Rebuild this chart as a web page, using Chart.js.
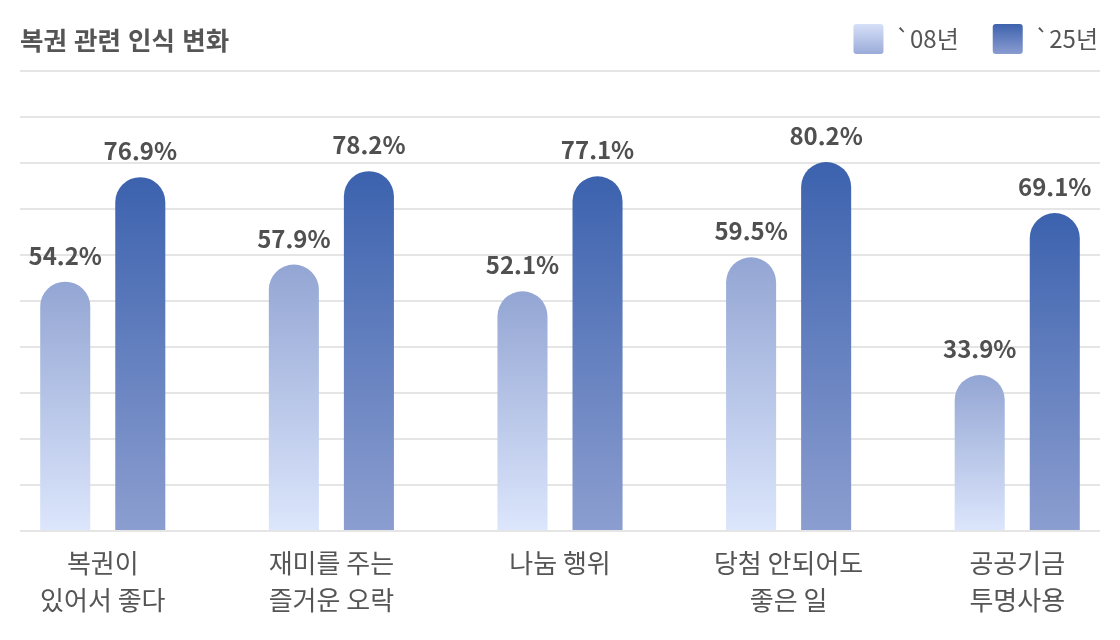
<!DOCTYPE html>
<html lang="ko">
<head>
<meta charset="utf-8">
<title>복권 관련 인식 변화</title>
<script src="https://cdn.jsdelivr.net/npm/chart.js@4.4.1/dist/chart.umd.min.js"></script>
<style>
  html, body { margin: 0; padding: 0; background: #fff; }
  .wrap { position: relative; width: 1120px; height: 640px; }
  .title {
    position: absolute; left: 20px; top: 25px; margin: 0;
    font: bold 25.5px "Noto Sans CJK KR", sans-serif; line-height: 28px; color: #555;
  }
</style>
</head>
<body>
<div class="wrap">
  <h1 class="title">복권 관련 인식 변화</h1>
  <canvas id="perceptionChart"></canvas>
</div>
<script>
const categories = [
    ['복권이', '있어서 좋다'],
    ['재미를 주는', '즐거운 오락'],
    ['나눔 행위'],
    ['당첨 안되어도', '좋은 일'],
    ['공공기금', '투명사용']
];
const seriesNames = ['`08년', '`25년'];
const values08 = [54.2, 57.9, 52.1, 59.5, 33.9];
const values25 = [76.9, 78.2, 77.1, 80.2, 69.1];

// top colour, bottom colour
const barColors = [['#93a5d3', '#dce6fc'], ['#3c62ae', '#8c9ed0']];
const legendColors = [['#d6e0f8', '#9aabd8'], ['#3e63ae', '#8a9cd0']];

Chart.defaults.font.family = '"Noto Sans CJK KR", "Noto Sans", sans-serif';
Chart.defaults.color = '#555';

function barGradient(idx) {
    return function(context) {
        const chart = context.chart;
        if (!chart.chartArea || context.parsed === undefined) return barColors[idx][0];
        const y = chart.scales.y;
        const top = y.getPixelForValue(context.parsed.y);
        const bottom = y.getPixelForValue(0);
        const g = chart.ctx.createLinearGradient(0, top, 0, bottom);
        g.addColorStop(0, barColors[idx][0]);
        g.addColorStop(1, barColors[idx][1]);
        return g;
    };
}

const legendGradients = {
    id: 'legendGradients',
    beforeDraw(chart) {
        const legend = chart.legend;
        if (!legend || !legend.legendItems) return;
        legend.legendItems.forEach(function(item, i) {
            const box = legend.legendHitBoxes[i];
            const g = chart.ctx.createLinearGradient(0, box.top, 0, box.top + box.height);
            g.addColorStop(0, legendColors[i][0]);
            g.addColorStop(1, legendColors[i][1]);
            item.fillStyle = g;
        });
    }
};

const valueLabels = {
    id: 'valueLabels',
    afterDatasetsDraw(chart) {
        const ctx = chart.ctx;
        const series = [values08, values25];
        ctx.save();
        ctx.font = 'bold 24px "Noto Sans CJK KR", sans-serif';
        ctx.fillStyle = '#505050';
        ctx.textAlign = 'center';
        ctx.textBaseline = 'alphabetic';
        chart.data.datasets.forEach(function(ds, di) {
            chart.getDatasetMeta(di).data.forEach(function(bar, i) {
                ctx.fillText(series[di][i].toFixed(1) + '%', bar.x, bar.y - 17);
            });
        });
        ctx.restore();
    }
};

const ctxChart = document.getElementById('perceptionChart').getContext('2d');
new Chart(ctxChart, {
    type: 'bar',
    data: {
        datasets: [
            {
                label: seriesNames[0],
                data: values08.map((v, i) => ({ x: i, y: v })),
                backgroundColor: barGradient(0),
                borderRadius: 25,
                borderSkipped: 'start'
            },
            {
                label: seriesNames[1],
                data: values25.map((v, i) => ({ x: i, y: v })),
                backgroundColor: barGradient(1),
                borderRadius: 25,
                borderSkipped: 'start'
            }
        ]
    },
    options: {
        responsive: true,
        maintainAspectRatio: false,
        animation: false,
        categoryPercentage: 0.6565,
        barPercentage: 0.667,
        layout: { padding: { top: -10, left: 20, right: -12, bottom: 0 } },
        scales: {
            x: {
                type: 'linear',
                offset: false,
                min: -0.362,
                max: 4.362,
                grid: { display: false, drawTicks: false },
                border: { display: false },
                ticks: {
                    stepSize: 1,
                    includeBounds: false,
                    autoSkip: false,
                    maxRotation: 0,
                    padding: 14,
                    color: '#555',
                    font: { size: 26, lineHeight: 1.42 },
                    callback: function(value) {
                        return Number.isInteger(value) ? categories[value] : '';
                    }
                },
                afterFit: function(scale) { scale.height = 109; }
            },
            y: {
                min: 0,
                max: 101.5,
                grid: { color: '#e5e5e5', lineWidth: 2, drawTicks: false },
                border: { display: false },
                ticks: { display: false, stepSize: 10, includeBounds: false }
            },
            yRight: {
                position: 'right',
                grid: { display: false, drawTicks: false },
                border: { display: false },
                ticks: { display: false },
                afterFit: function(scale) { scale.width = 32; }
            }
        },
        plugins: {
            legend: {
                position: 'top',
                align: 'end',
                labels: {
                    boxWidth: 30,
                    boxHeight: 30,
                    padding: 34,
                    useBorderRadius: true,
                    borderRadius: 3,
                    color: '#555',
                    font: { size: 24 }
                }
            },
            tooltip: { enabled: false }
        }
    },
    plugins: [legendGradients, valueLabels]
});
</script>
</body>
</html>
